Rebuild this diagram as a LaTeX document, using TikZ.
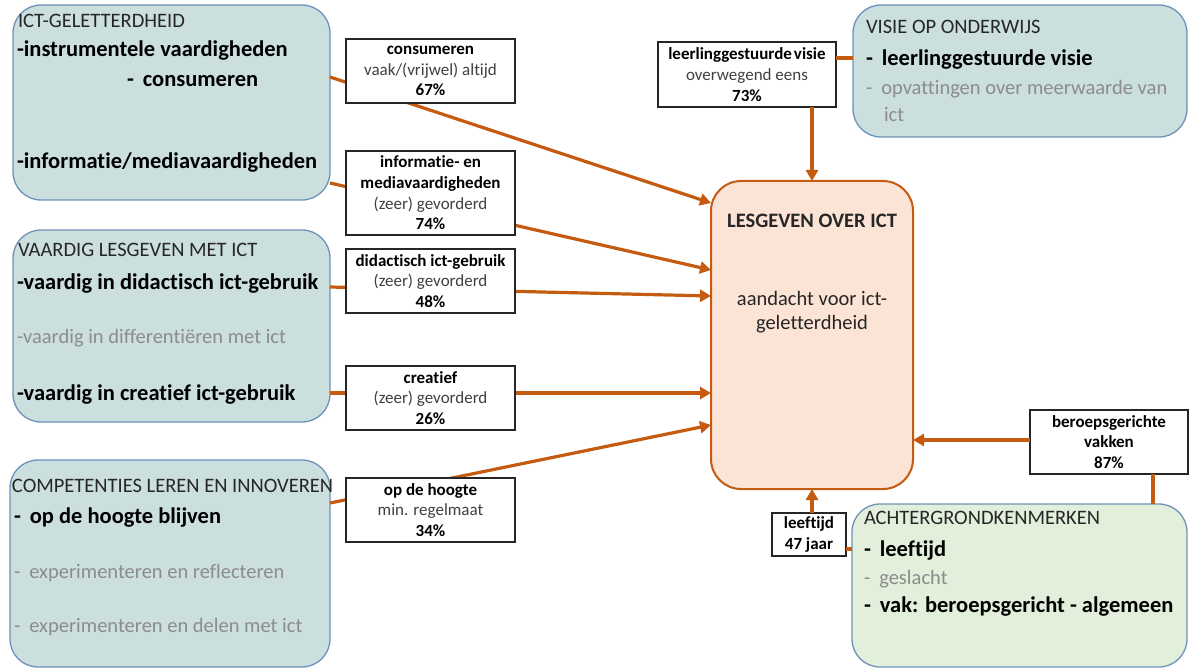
\documentclass[tikz,border=0pt]{standalone}
\usepackage{fontspec}
\setmainfont{Carlito}[Ligatures={NoCommon}]
\usetikzlibrary{arrows.meta}
\definecolor{grpfill}{HTML}{CADFDE}
\definecolor{grpdraw}{HTML}{6F92B8}
\definecolor{peach}{HTML}{FBE3D5}
\definecolor{orng}{HTML}{C55A11}
\definecolor{greenf}{HTML}{E2EFDA}
\definecolor{greyt}{HTML}{8C8C8C}
\definecolor{dgrey}{HTML}{404040}
\definecolor{titlec}{HTML}{262626}
\newcommand\ftitle{\fontsize{20.5}{24}\selectfont}
\newcommand\fbig{\fontsize{22.5}{27}\selectfont\bfseries}
\newcommand\fgrey{\fontsize{20.5}{24}\selectfont\color{greyt}}
\newcommand\flab{\fontsize{17}{20.7}\selectfont}
\begin{document}
\begin{tikzpicture}[x=1pt,y=-1pt,
  grp/.style={draw=grpdraw, line width=1.3pt, fill=grpfill, rounded corners=28pt, anchor=north west, inner sep=0, outer sep=0},
  central/.style={draw=orng, line width=2pt, fill=peach, rounded corners=30pt, anchor=north west, inner sep=0, outer sep=0},
  lbl/.style={draw=black!85, line width=1.1pt, fill=white, align=center, anchor=north west, inner sep=0, outer sep=0, font=\flab, text=dgrey},
  txt/.style={anchor=base west, inner sep=0, outer sep=0},
  conn/.style={draw=orng, line width=3.2pt},
  arr/.style={conn, -{Triangle[length=11pt,width=12pt]}},
]
\useasboundingbox (0,0) rectangle (1189,668);
% group boxes
\node[grp, minimum width=317pt, minimum height=195pt] (ict) at (13,5) {};
\node[grp, minimum width=317pt, minimum height=192pt] (vli) at (13,230) {};
\node[grp, minimum width=320pt, minimum height=207pt] (comp) at (10,460) {};
\node[grp, minimum width=334pt, minimum height=132pt] (vis) at (853,5) {};
\node[grp, fill=greenf, minimum width=335pt, minimum height=163pt] (ach) at (852,504) {};
\node[central, minimum width=202pt, minimum height=308pt] (les) at (711,181) {};

% group texts
\node[txt, font=\ftitle, text=titlec] (t1) at (18,28) {ICT-GELETTERDHEID};
\node[txt, font=\fbig] (t1a) at (17,57) {-instrumentele vaardigheden};
\node[txt, font=\fbig] (t1b) at (127,87) {-\hspace{9pt}consumeren};
\node[txt, font=\fbig] (t1c) at (17,169) {-informatie/mediavaardigheden};

\node[txt, font=\ftitle, text=titlec] (t2) at (18,257) {VAARDIG LESGEVEN MET ICT};
\node[txt, font=\fbig] (t2a) at (17,290) {-vaardig in didactisch ict-gebruik};
\node[txt, font=\fgrey] (t2b) at (17,344) {-vaardig in differentiëren met ict};
\node[txt, font=\fbig] (t2c) at (17,400) {-vaardig in creatief ict-gebruik};

\node[txt, font=\ftitle, text=titlec] (t3) at (12,492) {COMPETENTIES LEREN EN INNOVEREN};
\node[txt, font=\fbig] (t3a) at (14,523) {-\hspace{9pt}op de hoogte blijven};
\node[txt, font=\fgrey] (t3b) at (14,578) {-\hspace{9pt}experimenteren en reflecteren};
\node[txt, font=\fgrey] (t3c) at (14,632) {-\hspace{9pt}experimenteren en delen met ict};

\node[txt, font=\ftitle, text=titlec] (t4) at (866,34) {VISIE OP ONDERWIJS};
\node[txt, font=\fbig] (t4a) at (866,66) {-\hspace{9pt}leerlinggestuurde visie};
\node[txt, font=\fgrey] (t4b) at (866,95) {-\hspace{9pt}opvattingen over meerwaarde van};
\node[txt, font=\fgrey] (t4c) at (884,122) {ict};

\node[txt, font=\ftitle, text=titlec] (t5) at (864,524) {ACHTERGRONDKENMERKEN};
\node[txt, font=\fbig] (t5a) at (864,556) {-\hspace{9pt}leeftijd};
\node[txt, font=\fgrey] (t5b) at (864,584) {-\hspace{9pt}geslacht};
\node[txt, font=\fbig] (t5c) at (864,612) {-\hspace{9pt}vak: beroepsgericht - algemeen};

\node[font=\ftitle\bfseries, text=titlec, anchor=base, inner sep=0] (lt) at (812,228) {LESGEVEN OVER ICT};
\node[font=\ftitle, text=titlec, anchor=base, inner sep=0] (la) at (812,306) {aandacht voor ict-};
\node[font=\ftitle, text=titlec, anchor=base, inner sep=0] (lb) at (812,330) {geletterdheid};

% connectors passing behind labels
\draw[arr] (ict.east |- 0,77) -- (les.west |- 0,203);
\draw[arr] (ict.east |- 0,183) -- (les.west |- 0,270);
\draw[arr] (vli.east |- 0,287) -- (les.west |- 0,296);
\draw[arr] (vli.east |- 0,393) -- (les.west |- 0,393);
\draw[arr] (comp.east |- 0,503) -- (les.west |- 0,425);

% labels
\node[lbl, minimum width=169pt, minimum height=64pt] (lcons) at (346,39) {\textbf{\color{black}consumeren}\\vaak/(vrijwel) altijd\\\textbf{\color{black}67\%}};
\node[lbl, minimum width=169pt, minimum height=84pt] (linfo) at (346,151) {\textbf{\color{black}informatie- en}\\\textbf{\color{black}mediavaardigheden}\\(zeer) gevorderd\\\textbf{\color{black}74\%}};
\node[lbl, minimum width=169pt, minimum height=64pt] (ldid) at (346,249) {\textbf{\color{black}didactisch ict-gebruik}\\(zeer) gevorderd\\\textbf{\color{black}48\%}};
\node[lbl, minimum width=169pt, minimum height=64pt] (lcrea) at (346,366) {\textbf{\color{black}creatief}\\(zeer) gevorderd\\\textbf{\color{black}26\%}};
\node[lbl, minimum width=169pt, minimum height=64pt] (lhoog) at (346,478) {\textbf{\color{black}op de hoogte}\\min. regelmaat\\\textbf{\color{black}34\%}};
\node[lbl, minimum width=178pt, minimum height=65pt] (lleer) at (658,42) {\textbf{\color{black}leerlinggestuurde\hspace{2pt}visie}\\overwegend eens\\\textbf{\color{black}73\%}};
\node[lbl, minimum width=158pt, minimum height=64pt] (lber) at (1030,410) {\textbf{\color{black}beroepsgerichte}\\\textbf{\color{black}vakken}\\\textbf{\color{black}87\%}};
\node[lbl, minimum width=74pt, minimum height=43pt] (lleef) at (772,513) {\textbf{\color{black}leeftijd}\\\textbf{\color{black}47 jaar}};

% other connectors
\draw[arr] (les.north |- lleer.south) -- (les.north);
\draw[conn] (lleer.east |- 0,58) -- (vis.west |- 0,58);
\draw[arr] (lber.west |- 0,440) -- (les.east |- 0,440);
\draw[conn] (lber.south -| 1153,0) -- (ach.north -| 1153,0);
\draw[arr] (les.south |- lleef.north) -- (les.south);
\draw[conn] (lleef.east |- 0,549) -- (ach.west |- 0,549);
\end{tikzpicture}
\end{document}
